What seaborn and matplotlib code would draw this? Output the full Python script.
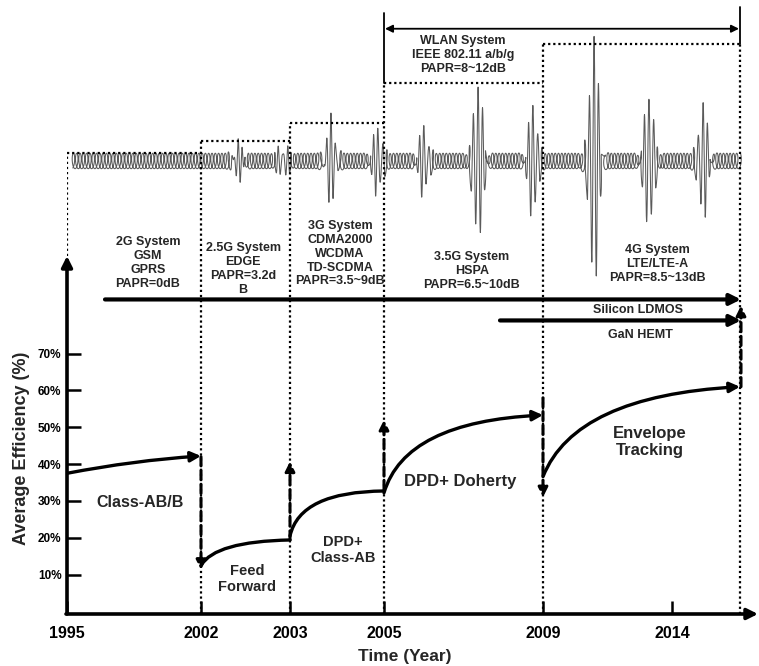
import numpy as np
import pandas as pd
import seaborn as sns
import matplotlib.pyplot as plt
from matplotlib.patches import FancyArrowPatch
from matplotlib.path import Path

# time axis (years are not evenly spaced in the original figure)
years = ["1995", "2002", "2003", "2005", "2009", "2014"]
year_pos = [67, 201, 290, 384, 543, 672]
axis_end = 740
eff_ticks = [10, 20, 30, 40, 50, 60, 70]
eff_labels = ["10%", "20%", "30%", "40%", "50%", "60%", "70%"]

# PA architectures: efficiency at start / end of each era (%)
tech_names = ["Class-AB/B", "Feed\nForward", "DPD+\nClass-AB", "DPD+ Doherty", "Envelope\nTracking"]
tech_x0 = [67, 201, 290, 384, 543]
tech_x1 = [201, 290, 384, 543, 740]
tech_y0 = [37.5, 12.5, 20.5, 32.2, 36.6]
tech_y1 = [42.2, 19.4, 32.7, 53.3, 61.0]
tech_bend_x = [134, 215, 300, 405, 575]
tech_bend_y = [41.0, 19.0, 32.5, 51.5, 58.5]
tech_head = [True, False, False, True, True]
tech_label_x = [140, 247, 343, 460, 650]
tech_label_y = [29.5, 8.8, 16.7, 35.2, 46.0]
tech_label_size = [11.5, 10.5, 10.5, 12, 12]

# jumps between architectures
jump_x = [201, 290, 384, 543, 741]
jump_from = [42.0, 19.4, 33.0, 58.0, 61.0]
jump_to = [11.3, 40.7, 52.0, 31.0, 83.0]

# wireless systems
sys_names = ["2G System\nGSM\nGPRS\nPAPR=0dB",
             "2.5G System\nEDGE\nPAPR=3.2d\nB",
             "3G System\nCDMA2000\nWCDMA\nTD-SCDMA\nPAPR=3.5~9dB",
             "3.5G System\nHSPA\nPAPR=6.5~10dB",
             "4G System\nLTE/LTE-A\nPAPR=8.5~13dB"]
sys_x0 = [67, 201, 290, 384, 543]
sys_x1 = [201, 290, 384, 543, 740]
sys_top = [124.5, 127.6, 132.6, 143.5, 154.1]
sys_label_x = [148, 243, 340, 472, 657]
sys_label_y = [94.6, 93.0, 97.1, 92.4, 94.4]

wlan_name = "WLAN System\nIEEE 802.11 a/b/g\nPAPR=8~12dB"
wlan_x = [384, 740]
wlan_y = 158.2

# signal bursts (peaks) on the envelope waveform
wave_level = 122.3
carrier_amp = 2.1
burst_x = [238, 283, 331, 378, 424, 478, 533, 594, 649, 703]
burst_amp = [4.3, 4.0, 11.0, 9.0, 9.0, 21.7, 15.0, 33.7, 18.5, 15.2]

# device technologies
pa_names = ["Silicon LDMOS", "GaN HEMT"]
pa_x0 = [105, 500]
pa_y = [84.7, 79.0]
pa_label_x = [638, 640]
pa_label_y = [81.9, 75.1]

sns.set_theme(style="white")
plt.rcParams["font.family"] = ["Liberation Sans", "DejaVu Sans"]
plt.rcParams["font.weight"] = "bold"

fig = plt.figure(figsize=(7.59, 6.66), dpi=100)
ax = fig.add_axes([67 / 759, 52 / 666, 692 / 759, 614 / 666])

# envelope waveform
t = np.arange(72, axis_end, 0.04)
phase = 2 * np.pi * t / 3.3
env_sum = np.zeros_like(t)
wy = wave_level + carrier_amp * np.sin(phase)
for bx, amp in zip(burst_x, burst_amp):
    env = np.exp(-0.5 * ((t - bx) / 4.3) ** 2)
    env_sum += env
    wy = wy + amp * env * np.cos(2 * np.pi * (t - bx) / 4.6)
wx = t + 2.0 * np.cos(phase) * (1 - np.clip(env_sum * 3, 0, 1))
wave = pd.DataFrame({"x": wx, "y": wy})
sns.lineplot(data=wave, x="x", y="y", ax=ax, sort=False, estimator=None, color="#5a5a5a", lw=0.75)

ax.set_xlim(67, 759)
ax.set_ylim(-0.7, 166.0)
for s in ax.spines.values():
    s.set_visible(False)

# axes with arrows
ax.annotate("", xy=(67, 96.5), xytext=(67, -0.7),
            arrowprops=dict(arrowstyle="-|>", lw=2.6, color="black", mutation_scale=16, shrinkA=0, shrinkB=0))
ax.annotate("", xy=(758, -0.7), xytext=(66, -0.7),
            arrowprops=dict(arrowstyle="-|>", lw=2.6, color="black", mutation_scale=16, shrinkA=0, shrinkB=0))

ax.set_xticks(year_pos)
ax.set_xticklabels(years, fontsize=11.5, fontweight="bold")
ax.set_yticks(eff_ticks)
ax.set_yticklabels(eff_labels, fontsize=8.5, fontweight="bold")
ax.tick_params(axis="x", direction="in", length=9.5, width=1.8, pad=9, colors="black", bottom=True)
ax.tick_params(axis="y", direction="in", length=10, width=1.8, pad=4, colors="black", left=True)
ax.set_xlabel("Time (Year)", fontsize=12.5, fontweight="bold")
ax.set_ylabel("Average Efficiency (%)", fontsize=13, fontweight="bold")
ax.xaxis.set_label_coords((405 - 67) / 692, (614 - 649) / 614)
ax.yaxis.set_label_coords((30 - 67) / 692, (614 - 448) / 614)

# dotted system boxes
dot = dict(color="black", lw=1.6, linestyle=(0, (1, 1.3)))
bounds = sys_x0 + [sys_x1[-1]]
tops = [sys_top[0]] + [max(a, b) for a, b in zip(sys_top[:-1], sys_top[1:])] + [sys_top[-1]]
for i, (bx, top) in enumerate(zip(bounds, tops)):
    bottom = 96.5 if i == 0 else -0.7
    ax.plot([bx, bx], [bottom, top], **dot)
for x0, x1, top in zip(sys_x0, sys_x1, sys_top):
    ax.plot([x0, x1], [top, top], **dot)
for name, lx, ly in zip(sys_names, sys_label_x, sys_label_y):
    ax.text(lx, ly, name, ha="center", va="center", fontsize=9, fontweight="bold", linespacing=1.2)

# WLAN span
ax.plot([wlan_x[0], wlan_x[0]], [sys_top[3], 162.5], color="black", lw=1.3)
ax.plot([wlan_x[1], wlan_x[1]], [sys_top[4], 164.1], color="black", lw=1.3)
ax.annotate("", xy=(wlan_x[0] + 1, wlan_y), xytext=(wlan_x[1] - 1, wlan_y),
            arrowprops=dict(arrowstyle="<|-|>", lw=1.3, color="black", mutation_scale=11, shrinkA=0, shrinkB=0))
ax.text(463, 151.1, wlan_name, ha="center", va="center", fontsize=9, fontweight="bold", linespacing=1.25)

# device technology arrows
for name, x0, y, lx, ly in zip(pa_names, pa_x0, pa_y, pa_label_x, pa_label_y):
    ax.annotate("", xy=(741, y), xytext=(x0, y),
                arrowprops=dict(arrowstyle="-|>", lw=3, color="black", mutation_scale=16, shrinkA=0, shrinkB=0))
    ax.text(lx, ly, name, ha="center", va="center", fontsize=9, fontweight="bold")

# efficiency curves
for x0, x1, y0, y1, cx, cy, head in zip(tech_x0, tech_x1, tech_y0, tech_y1,
                                         tech_bend_x, tech_bend_y, tech_head):
    path = Path([(x0, y0), (cx, cy), (x1, y1)], [Path.MOVETO, Path.CURVE3, Path.CURVE3])
    arr = FancyArrowPatch(path=path, arrowstyle="-|>" if head else "-", lw=2.4,
                          color="black", mutation_scale=15)
    ax.add_patch(arr)
for name, lx, ly, fs in zip(tech_names, tech_label_x, tech_label_y, tech_label_size):
    ax.text(lx, ly, name, ha="center", va="center", fontsize=fs, fontweight="bold", linespacing=1.15)

# dashed jumps
for x, y0, y1 in zip(jump_x, jump_from, jump_to):
    ax.annotate("", xy=(x, y1), xytext=(x, y0),
                arrowprops=dict(arrowstyle="-|>", lw=2.2, color="black", linestyle=(0, (3, 1.5)),
                                mutation_scale=14, shrinkA=0, shrinkB=0))

fig.savefig("out.png", dpi=100)
